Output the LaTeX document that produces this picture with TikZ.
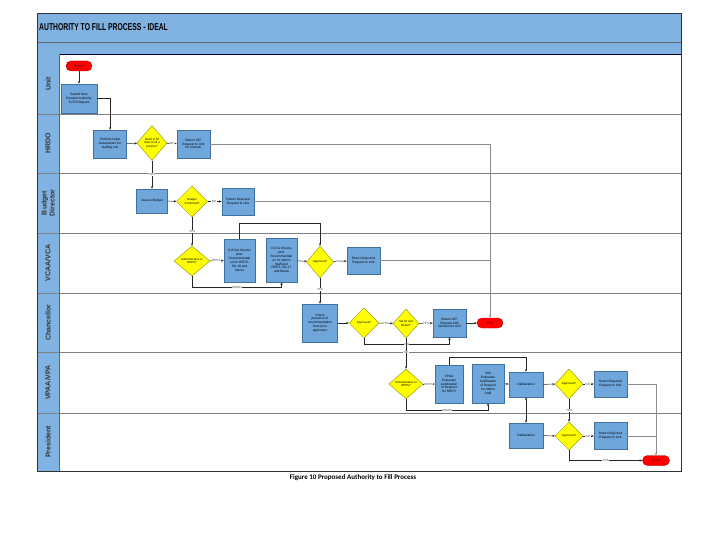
\documentclass[tikz,border=0pt]{standalone}
\usepackage{fontspec}
\setmainfont{Liberation Sans}
\newfontfamily\capfont{Carlito}
\usepackage{graphicx}
\usetikzlibrary{shapes.geometric,arrows.meta}
\definecolor{hdr}{HTML}{80B3E2}
\definecolor{boxfill}{HTML}{6FA6DC}
\definecolor{boxline}{HTML}{41719C}
\definecolor{decfill}{HTML}{FFFF00}
\definecolor{decline}{HTML}{9C9C1E}
\definecolor{termfill}{HTML}{FF0000}
\definecolor{termline}{HTML}{B00000}
\begin{document}
\begin{tikzpicture}[x=1pt,y=-1pt,
 proc/.style={rectangle,draw=boxline,fill=boxfill,line width=0.5pt,inner sep=0.5pt,align=center,font=\fontsize{3.2}{3.9}\selectfont},
 dec/.style={diamond,draw=decline,fill=decfill,line width=0.5pt,inner sep=0pt,aspect=1.2,align=center,font=\fontsize{2.9}{3.4}\selectfont},
 term/.style={rectangle,rounded corners=5pt,draw=termline,fill=termfill,minimum width=26pt,minimum height=10pt,inner sep=0pt,font=\fontsize{3.2}{3.9}\selectfont,text=red!40!black},
 lbl/.style={fill=white,inner sep=0.4pt,font=\fontsize{3}{3.5}\selectfont,text=black!70},
 arr/.style={draw=black!85,line width=0.5pt,-{Stealth[length=2.6pt,width=2.2pt]}},
 darr/.style={draw=black!85,line width=0.6pt,{Stealth[length=2.6pt,width=2.2pt]}-{Stealth[length=2.6pt,width=2.2pt]}},
 ret/.style={draw=black!45,line width=0.6pt},
 lane/.style={draw=black!50,line width=0.9pt},
 lanelbl/.style={rotate=90,font=\fontsize{7}{8}\selectfont\bfseries,text=black!80,align=center}
]
\useasboundingbox (0,0) rectangle (720,540);
% header and lanes
\fill[hdr] (37,13) rectangle (681,54);
\draw[black!60,line width=0.8pt] (37,42) -- (681,42);
\draw[black!80!blue,line width=0.9pt] (37,54) -- (681,54);
\fill[hdr] (37,54) rectangle (59,471);
\foreach \yy in {114,173,233,293,352,413} {\draw[lane] (37,\yy) -- (681,\yy);}
\draw[black!60,line width=0.6pt] (59,54) -- (59,471);
\draw[black!80,line width=0.9pt] (37,13) rectangle (681,471);
\node[anchor=west,inner sep=1pt,font=\fontsize{10}{12}\selectfont\bfseries] (title) at (38,27) {\scalebox{0.68}[1]{AUTHORITY TO FILL PROCESS - IDEAL}};
\node[lanelbl] (l1) at (48,84) {Unit};
\node[lanelbl] (l2) at (48,143.5) {HRDO};
\node[lanelbl] (l3) at (48,203) {Budget\\Director};
\node[lanelbl] (l4) at (48,263) {VCAA/VCA};
\node[lanelbl] (l5) at (48,322.5) {Chancellor};
\node[lanelbl] (l6) at (48,382.5) {VPAA/VPA};
\node[lanelbl] (l7) at (48,442) {President};
% Unit
\node[term] (start) at (79,66) {START};
\node[proc,minimum width=36pt,minimum height=29pt] (submit) at (79,98.5) {Submit New\\Revised Authority\\To Fill Request};
% HRDO
\node[proc,minimum width=33pt,minimum height=28pt] (assess) at (110,144) {Perform Initial\\Assessment for\\staffing unit};
\node[dec,minimum width=30pt,minimum height=35pt] (need) at (152,143) {Need to fill\\dues to fill a\\position?};
\node[proc,minimum width=33pt,minimum height=28pt] (retatf) at (193.5,144) {Return ATF\\Request to Unit\\for revision};
% Budget
\node[proc,minimum width=31pt,minimum height=24pt] (budget) at (152,201) {Assess Budget};
\node[dec,minimum width=31pt,minimum height=31pt] (bconf) at (192,201.5) {Budget\\Confirmed?};
\node[proc,minimum width=32pt,minimum height=27pt] (rrej1) at (238,201.5) {Return Rejected\\Request to Unit};
% VCAA
\node[dec,minimum width=36pt,minimum height=30pt] (adm1) at (192,261) {Administrative or\\REPS?};
\node[proc,minimum width=31pt,minimum height=43pt] (cvcaa) at (239.5,260.5) {CVCAA Checks\\prior\\Recommendati\\on for REPS,\\SG 18 and\\Above};
\node[proc,minimum width=31pt,minimum height=44pt] (cvca) at (281.5,260) {CVCA Checks\\prior\\Recommendati\\on for Admin\\Staff and\\REPS, SG 17\\and Below};
\node[dec,minimum width=27pt,minimum height=32pt] (appr1) at (320,262) {Approved?};
\node[proc,minimum width=33pt,minimum height=27pt] (rrej2) at (363.5,260.5) {Return Rejected\\Request to Unit};
% Chancellor
\node[proc,minimum width=35pt,minimum height=38pt] (check) at (320,323) {Check\\presence of\\recommendation\\from prior\\approvers};
\node[dec,minimum width=30pt,minimum height=30pt] (appr2) at (364,323) {Approved?};
\node[dec,minimum width=26pt,minimum height=29pt] (sg19) at (406,323.5) {SG 19 and\\Below?};
\node[proc,minimum width=33pt,minimum height=28pt] (retdec) at (449.5,323) {Return ATF\\Request with\\Decision to Unit};
\node[term] (end1) at (490,323) {END};
% VPAA
\node[dec,minimum width=34pt,minimum height=30pt] (adm2) at (406,384) {Administrative or\\REPS?};
\node[proc,minimum width=28pt,minimum height=38pt] (vpaa) at (449,384) {VPAA\\Evaluates\\Justification\\of Request\\for REPS};
\node[proc,minimum width=32pt,minimum height=39pt] (vpa) at (488,383.5) {VPA\\Evaluates\\Justification\\of Request\\for Admin\\Staff};
\node[proc,minimum width=34pt,minimum height=25pt] (delib1) at (526,384.5) {Deliberation};
\node[dec,minimum width=28pt,minimum height=30pt] (appr3) at (569,384) {Approved?};
\node[proc,minimum width=33pt,minimum height=26pt] (rrej3) at (610.5,384) {Return Rejected\\Request to Unit};
% President
\node[proc,minimum width=34pt,minimum height=25pt] (delib2) at (526,435.5) {Deliberation};
\node[dec,minimum width=28pt,minimum height=28pt] (appr4) at (569,436) {Approved?};
\node[proc,minimum width=33pt,minimum height=27pt] (rrej4) at (610.5,436) {Return Rejected\\Request to Unit};
\node[term,minimum width=27pt] (end2) at (656,460.5) {END};
% caption
\node[font=\capfont\bfseries\fontsize{7}{8}\selectfont] (cap) at (353,478) {Figure 10 Proposed Authority to Fill Process};
% return lines
\draw[ret,-{Stealth[length=2.6pt,width=2.2pt]}] (retatf.east) -| (end1.north);
\draw[ret] (rrej1.east) -- (rrej1.east -| end1.north);
\draw[ret] (rrej2.east) -- (rrej2.east -| end1.north);
\draw[ret,-{Stealth[length=2.6pt,width=2.2pt]}] (rrej3.east) -| (end2.north);
\draw[ret] (rrej4.east) -- (rrej4.east -| end2.north);
% connectors
\draw[arr] (start) -- (submit);
\draw[arr] (submit.east) -| (assess.north);
\draw[arr] (assess) -- (need);
\draw[arr] (need) -- node[lbl,pos=0.55]{NO} (retatf);
\draw[arr] (need.south) -- node[lbl,pos=0.5]{YES} (budget.north);
\draw[arr] (budget) -- (bconf);
\draw[arr] (bconf) -- node[lbl,pos=0.45]{NO} (rrej1);
\draw[arr] (bconf.south) -- node[lbl,pos=0.5]{YES} (adm1.north);
\draw[arr] (adm1) -- node[lbl,pos=0.45]{REPS} (cvcaa);
\draw[arr] (adm1.south) -- ++(0,11) -| node[lbl,pos=0.25]{ADMIN} (cvca.south);
\draw[arr] (cvcaa.north) -- ++(0,-15) -| (appr1.north);
\draw[arr] (cvca) -- (appr1);
\draw[arr] (appr1) -- node[lbl,pos=0.4]{NO} (rrej2);
\draw[arr] (appr1.south) -- node[lbl,pos=0.45]{YES} (check.north);
\draw[arr] (check) -- (appr2);
\draw[arr] (appr2) -- node[lbl,pos=0.5]{YES} (sg19);
\draw[arr] (sg19) -- node[lbl,pos=0.5]{YES} (retdec);
\draw[arr] (retdec) -- (end1);
\draw[arr] (appr2.south) -- ++(0,6) -| node[lbl,pos=0.25]{NO} (retdec.south);
\draw[arr] (sg19.south) -- node[lbl,pos=0.45]{NO} (adm2.north);
\draw[arr] (adm2) -- node[lbl,pos=0.45]{REPS} (vpaa);
\draw[arr] (adm2.south) -- ++(0,11) -| node[lbl,pos=0.25]{ADMIN} (vpa.south);
\draw[arr] (vpaa.north) -- ++(0,-8) -| (delib1.north);
\draw[arr] (vpa) -- (delib1);
\draw[arr] (delib1) -- (appr3);
\draw[arr] (appr3) -- node[lbl,pos=0.45]{NO} (rrej3);
\draw[arr] (appr3.south) -- node[lbl,pos=0.5]{YES} (appr4.north);
\draw[darr] (delib1.south) -- (delib2.north);
\draw[arr] (delib2) -- (appr4);
\draw[arr] (appr4) -- node[lbl,pos=0.45]{NO} (rrej4);
\draw[arr] (appr4.south) |- node[lbl,pos=0.75]{YES} (end2.west);
\end{tikzpicture}
\end{document}
